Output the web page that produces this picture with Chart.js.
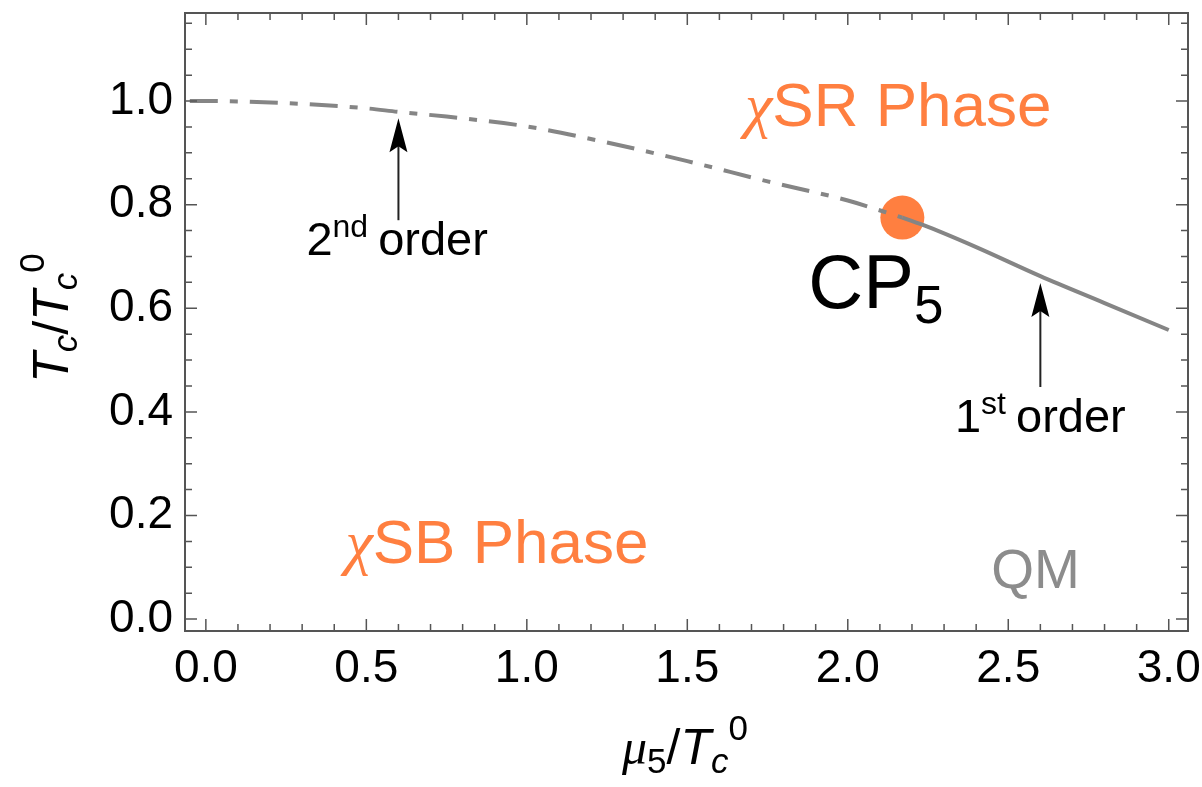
<!DOCTYPE html>
<html>
<head>
<meta charset="utf-8">
<script src="https://cdn.jsdelivr.net/npm/chart.js@4.4.1/dist/chart.umd.min.js"></script>
<style>
  html, body { margin: 0; padding: 0; background: #fff; }
</style>
</head>
<body>
<canvas id="myChart" width="1202" height="787"></canvas>
<script>
// phase boundary, second order part (dot-dashed)
const secondX = [-0.05, 0, 0.25, 0.5, 0.6, 0.75, 1.0, 1.25, 1.5, 1.75, 2.0, 2.17];
const secondY = [1.0, 1.0, 0.996, 0.986, 0.979, 0.97, 0.951, 0.92, 0.884, 0.845, 0.808, 0.775];
// first order part (solid)
const firstX = [2.17, 2.25, 2.4, 2.6, 2.8, 3.0];
const firstY = [0.775, 0.757, 0.718, 0.662, 0.61, 0.558];
// critical point
const cpX = [2.17];
const cpY = [0.775];

const xTicks = [0.0, 0.5, 1.0, 1.5, 2.0, 2.5, 3.0];
const yTicks = [0.0, 0.2, 0.4, 0.6, 0.8, 1.0];

const ORANGE = "#ff7f40";
const GRAY = "#858585";
const SANS = "'Liberation Sans', Helvetica, Arial, sans-serif";
const SERIF = "'Liberation Serif', 'Times New Roman', serif";

function pts(xs, ys) {
  return xs.map((x, i) => ({ x: x, y: ys[i] }));
}

// draw a run of text pieces with their own fonts / vertical shift
function richText(ctx, parts, x, y, align) {
  let w = 0;
  parts.forEach(p => { ctx.font = p.font; w += ctx.measureText(p.t).width + (p.gap || 0); });
  let cx = align === "center" ? x - w / 2 : x;
  ctx.textBaseline = "alphabetic";
  ctx.textAlign = "left";
  parts.forEach(p => {
    ctx.font = p.font;
    ctx.fillStyle = p.color || "#000";
    ctx.fillText(p.t, cx, y + (p.dy || 0));
    cx += ctx.measureText(p.t).width + (p.gap || 0);
  });
}

function arrow(ctx, x, y0, y1) {
  ctx.save();
  ctx.strokeStyle = "#222";
  ctx.fillStyle = "#000";
  ctx.lineWidth = 2;
  ctx.beginPath();
  ctx.moveTo(x, y0);
  ctx.lineTo(x, y1 + 20);
  ctx.stroke();
  ctx.beginPath();
  ctx.moveTo(x, y1);
  ctx.lineTo(x - 9, y1 + 34);
  ctx.lineTo(x, y1 + 28);
  ctx.lineTo(x + 9, y1 + 34);
  ctx.closePath();
  ctx.fill();
  ctx.restore();
}

const framePlugin = {
  id: "frame",
  afterDatasetsDraw(chart) {
    const ctx = chart.ctx;
    const xs = chart.scales.x, ys = chart.scales.y;
    const a = chart.chartArea;
    ctx.save();
    ctx.strokeStyle = "#555";
    ctx.lineWidth = 1.5;
    // tick marks on all four sides
    for (let i = 0; i <= 30; i++) {
      const v = i / 10;
      const px = xs.getPixelForValue(v);
      const len = i % 5 === 0 ? 12 : 7;
      ctx.beginPath();
      ctx.moveTo(px, a.bottom); ctx.lineTo(px, a.bottom - len);
      ctx.moveTo(px, a.top); ctx.lineTo(px, a.top + len);
      ctx.stroke();
    }
    for (let i = 0; i <= 23; i++) {
      const v = i / 20;
      const py = ys.getPixelForValue(v);
      const len = i % 4 === 0 ? 12 : 7;
      ctx.beginPath();
      ctx.moveTo(a.left, py); ctx.lineTo(a.left + len, py);
      ctx.moveTo(a.right, py); ctx.lineTo(a.right - len, py);
      ctx.stroke();
    }
    ctx.lineWidth = 2;
    ctx.strokeRect(a.left, a.top, a.right - a.left, a.bottom - a.top);

    // annotations
    const X = v => xs.getPixelForValue(v);
    const Y = v => ys.getPixelForValue(v);

    richText(ctx, [
      { t: "\u03c7", font: "italic 62px " + SERIF, color: ORANGE },
      { t: "SR Phase", font: "62px " + SANS, color: ORANGE }
    ], X(1.68), Y(0.952), "left");
    richText(ctx, [
      { t: "\u03c7", font: "italic 62px " + SERIF, color: ORANGE },
      { t: "SB Phase", font: "62px " + SANS, color: ORANGE }
    ], X(0.435), Y(0.108), "left");
    richText(ctx, [{ t: "QM", font: "55px " + SANS, color: "#8c8c8c" }], X(2.585), Y(0.06), "center");
    richText(ctx, [
      { t: "CP", font: "76px " + SANS },
      { t: "5", font: "53px " + SANS, dy: 15 }
    ], X(1.877), Y(0.6), "left");

    arrow(ctx, X(0.6), Y(0.77), Y(0.967));
    richText(ctx, [
      { t: "2", font: "47px " + SANS },
      { t: "nd", font: "32px " + SANS, dy: -18, gap: 10 },
      { t: "order", font: "47px " + SANS }
    ], X(0.596), Y(0.703), "center");

    arrow(ctx, X(2.6), Y(0.448), Y(0.649));
    richText(ctx, [
      { t: "1", font: "47px " + SANS },
      { t: "st", font: "32px " + SANS, dy: -18, gap: 10 },
      { t: "order", font: "47px " + SANS }
    ], X(2.6), Y(0.361), "center");

    // axis titles
    richText(ctx, [
      { t: "\u03bc", font: "italic 50px " + SERIF },
      { t: "5", font: "35px " + SANS, dy: 9 },
      { t: "/", font: "50px " + SANS },
      { t: "T", font: "italic 50px " + SANS },
      { t: "c", font: "italic 35px " + SANS, dy: 9 },
      { t: "0", font: "35px " + SANS, dy: -24 }
    ], 685, 764, "center");

    ctx.translate(68, 318);
    ctx.rotate(-Math.PI / 2);
    richText(ctx, [
      { t: "T", font: "italic 50px " + SANS },
      { t: "c", font: "italic 35px " + SANS, dy: 9 },
      { t: "/", font: "50px " + SANS },
      { t: "T", font: "italic 50px " + SANS },
      { t: "c", font: "italic 35px " + SANS, dy: 9 },
      { t: "0", font: "35px " + SANS, dy: -24 }
    ], 0, 0, "center");
    ctx.restore();
  }
};

new Chart(document.getElementById("myChart"), {
  type: "scatter",
  data: {
    datasets: [
      {
        label: "2nd order",
        data: pts(secondX, secondY),
        showLine: true,
        borderColor: GRAY,
        borderWidth: 4,
        borderDash: [28, 12, 8, 12],
        pointRadius: 0,
        pointBorderWidth: 0,
        cubicInterpolationMode: "monotone"
      },
      {
        label: "1st order",
        data: pts(firstX, firstY),
        showLine: true,
        borderColor: GRAY,
        borderWidth: 4,
        pointRadius: 0,
        pointBorderWidth: 0,
        cubicInterpolationMode: "monotone"
      },
      {
        label: "CP5",
        data: pts(cpX, cpY),
        pointRadius: 22,
        pointBorderWidth: 0,
        pointBackgroundColor: ORANGE,
        backgroundColor: ORANGE
      }
    ]
  },
  options: {
    responsive: false,
    animation: false,
    layout: { autoPadding: false, padding: { left: 0, right: 14, top: 13, bottom: 0 } },
    plugins: { legend: { display: false }, tooltip: { enabled: false } },
    scales: {
      x: {
        type: "linear",
        min: -0.065,
        max: 3.06,
        grid: { display: false, drawTicks: false },
        border: { display: false },
        afterFit(scale) {
          scale.height = 156;
          scale.paddingLeft = 0;
          scale.paddingRight = 0;
        },
        afterBuildTicks(scale) { scale.ticks = xTicks.map(v => ({ value: v })); },
        ticks: {
          padding: 11,
          color: "#000",
          font: { family: SANS, size: 46 },
          callback: v => v.toFixed(1)
        }
      },
      y: {
        type: "linear",
        min: -0.023,
        max: 1.17,
        grid: { display: false, drawTicks: false },
        border: { display: false },
        afterFit(scale) {
          scale.width = 185;
          scale.paddingTop = 0;
          scale.paddingBottom = 0;
        },
        afterBuildTicks(scale) { scale.ticks = yTicks.map(v => ({ value: v })); },
        ticks: {
          padding: 12,
          color: "#000",
          font: { family: SANS, size: 46 },
          callback: v => v.toFixed(1)
        }
      }
    }
  },
  plugins: [framePlugin]
});
</script>
</body>
</html>
